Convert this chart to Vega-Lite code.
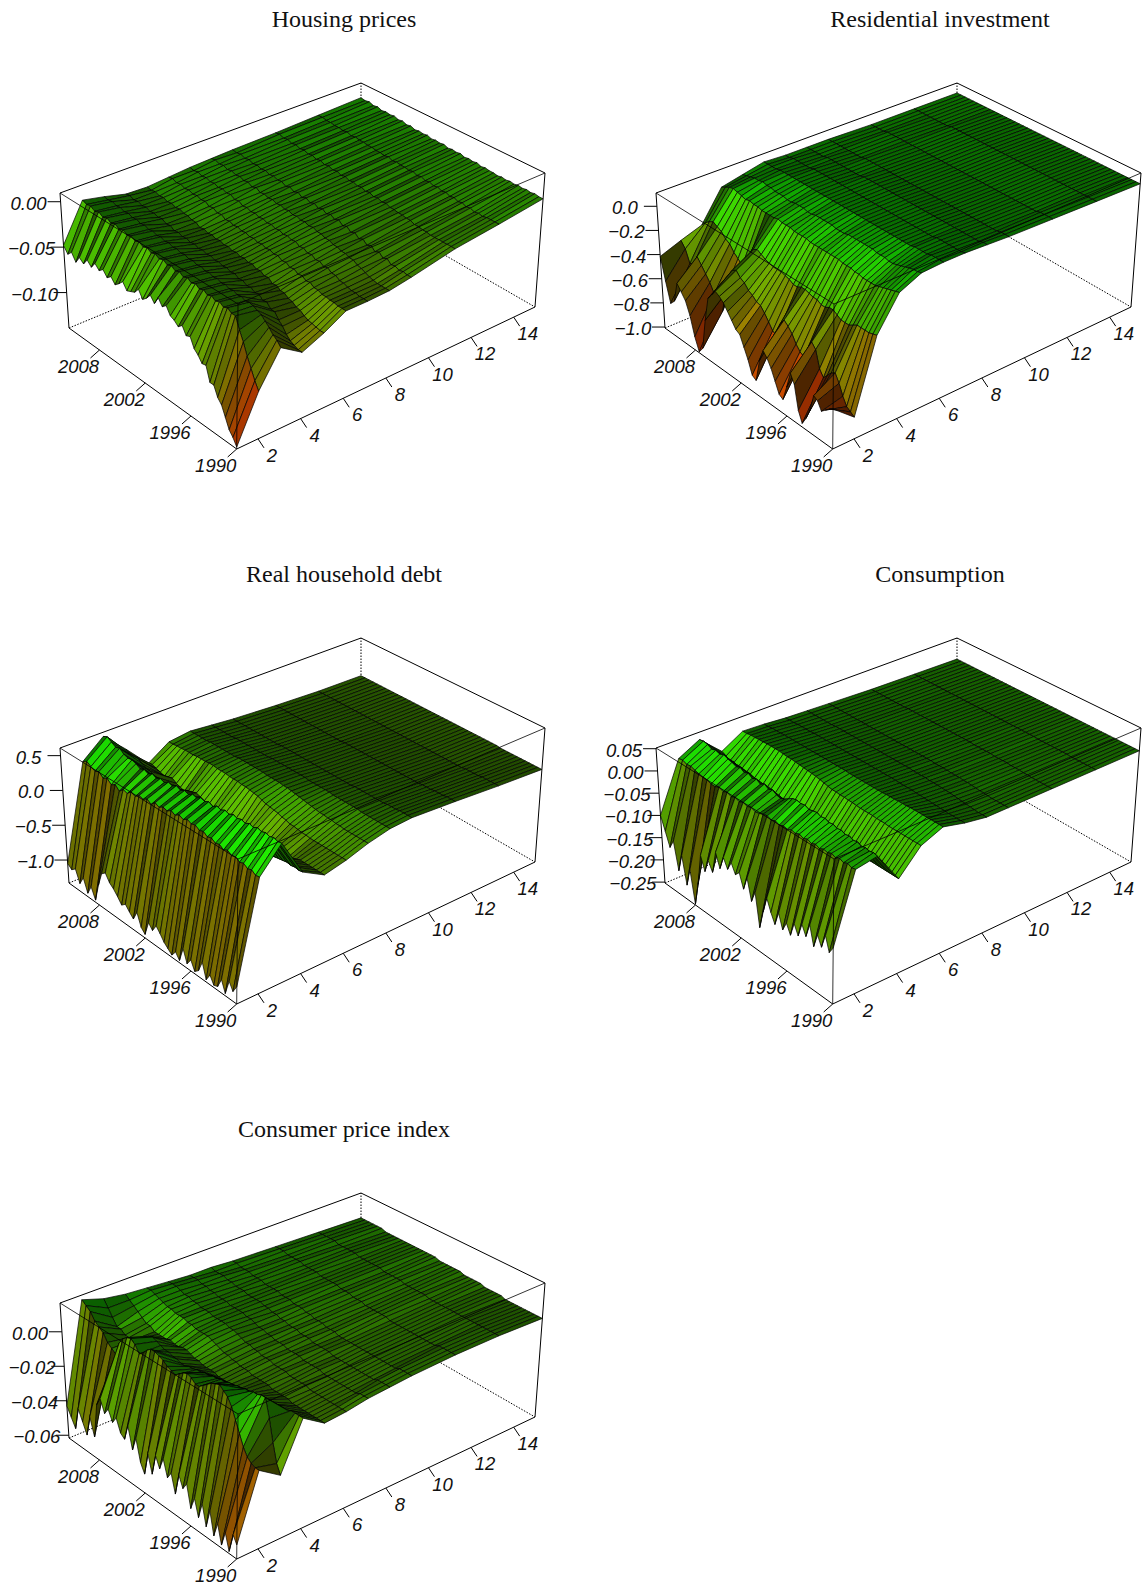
{"$schema":"https://vega.github.io/schema/vega-lite/v6.json","padding":0,"background":"white","config":{"view":{"stroke":null}},
"data":{"values":[
{"p":[0],"k":"t","t":"Housing prices","z":[0]},{"p":[1],"k":"t","t":"Residential investment","z":[0]},{"p":[2],"k":"t","t":"Real household debt","z":[0]},{"p":[3],"k":"t","t":"Consumption","z":[0]},{"p":[4],"k":"t","t":"Consumer price index","z":[0]},
{"p":[0,1,2,3,4],"k":"e1","o":0,"y":2012,"h":1,"w":0,"z":[0]},{"p":[0,1,2,3,4],"k":"e1","o":1,"y":2012,"h":1,"w":1,"z":[0]},{"p":[0,1,2,3,4],"k":"e1","o":2,"y":2012,"h":15,"w":1,"z":[0]},{"p":[0,1,2,3,4],"k":"e1","o":3,"y":1990,"h":15,"w":1,"z":[0]},{"p":[0,1,2,3,4],"k":"e1","o":4,"y":1990,"h":15,"w":0,"z":[0]},{"p":[0,1,2,3,4],"k":"e1","o":5,"y":1990,"h":1,"w":0,"z":[0]},{"p":[0,1,2,3,4],"k":"e1","o":6,"y":2012,"h":1,"w":0,"z":[0]},
{"p":[0,1,2,3,4],"k":"f1","o":0,"y":2012,"h":1,"w":1,"z":[0]},{"p":[0,1,2,3,4],"k":"f1","o":1,"y":1990,"h":1,"w":1,"z":[0]},{"p":[0,1,2,3,4],"k":"f1","o":2,"y":1990,"h":15,"w":1,"z":[0]},
{"p":[0,1,2,3,4],"k":"f2","o":0,"y":1990,"h":1,"w":0,"z":[0]},{"p":[0,1,2,3,4],"k":"f2","o":1,"y":1990,"h":1,"w":1,"z":[0]},
{"p":[0,1,2,3,4],"k":"d1","o":0,"y":2012,"h":1,"w":0,"z":[0]},{"p":[0,1,2,3,4],"k":"d1","o":1,"y":2012,"h":15,"w":0,"z":[0]},{"p":[0,1,2,3,4],"k":"d1","o":2,"y":1990,"h":15,"w":0,"z":[0]},
{"p":[0,1,2,3,4],"k":"d2","o":0,"y":2012,"h":15,"w":0,"z":[0]},{"p":[0,1,2,3,4],"k":"d2","o":1,"y":2012,"h":15,"w":1,"z":[0]},
{"p":[0,1,2,3,4],"k":"y","y":1990,"h":1,"w":0,"t":"1990","z":[0]},{"p":[0,1,2,3,4],"k":"y","y":1996,"h":1,"w":0,"t":"1996","z":[0]},{"p":[0,1,2,3,4],"k":"y","y":2002,"h":1,"w":0,"t":"2002","z":[0]},{"p":[0,1,2,3,4],"k":"y","y":2008,"h":1,"w":0,"t":"2008","z":[0]},
{"p":[0,1,2,3,4],"k":"h","y":1990,"h":2,"w":0,"t":"2","z":[0]},{"p":[0,1,2,3,4],"k":"h","y":1990,"h":4,"w":0,"t":"4","z":[0]},{"p":[0,1,2,3,4],"k":"h","y":1990,"h":6,"w":0,"t":"6","z":[0]},{"p":[0,1,2,3,4],"k":"h","y":1990,"h":8,"w":0,"t":"8","z":[0]},{"p":[0,1,2,3,4],"k":"h","y":1990,"h":10,"w":0,"t":"10","z":[0]},{"p":[0,1,2,3,4],"k":"h","y":1990,"h":12,"w":0,"t":"12","z":[0]},{"p":[0,1,2,3,4],"k":"h","y":1990,"h":14,"w":0,"t":"14","z":[0]},
{"p":[0],"k":"c","y":2012,"h":1,"z":[0],"t":"0.00"},{"p":[0],"k":"c","y":2012,"h":1,"z":[-0.05],"t":"−0.05"},{"p":[0],"k":"c","y":2012,"h":1,"z":[-0.1],"t":"−0.10"},
{"p":[1],"k":"c","y":2012,"h":1,"z":[0],"t":"0.0"},{"p":[1],"k":"c","y":2012,"h":1,"z":[-0.2],"t":"−0.2"},{"p":[1],"k":"c","y":2012,"h":1,"z":[-0.4],"t":"−0.4"},{"p":[1],"k":"c","y":2012,"h":1,"z":[-0.6],"t":"−0.6"},{"p":[1],"k":"c","y":2012,"h":1,"z":[-0.8],"t":"−0.8"},{"p":[1],"k":"c","y":2012,"h":1,"z":[-1],"t":"−1.0"},
{"p":[2],"k":"c","y":2012,"h":1,"z":[0.5],"t":"0.5"},{"p":[2],"k":"c","y":2012,"h":1,"z":[0],"t":"0.0"},{"p":[2],"k":"c","y":2012,"h":1,"z":[-0.5],"t":"−0.5"},{"p":[2],"k":"c","y":2012,"h":1,"z":[-1],"t":"−1.0"},
{"p":[3],"k":"c","y":2012,"h":1,"z":[0.05],"t":"0.05"},{"p":[3],"k":"c","y":2012,"h":1,"z":[0],"t":"0.00"},{"p":[3],"k":"c","y":2012,"h":1,"z":[-0.05],"t":"−0.05"},{"p":[3],"k":"c","y":2012,"h":1,"z":[-0.1],"t":"−0.10"},{"p":[3],"k":"c","y":2012,"h":1,"z":[-0.15],"t":"−0.15"},{"p":[3],"k":"c","y":2012,"h":1,"z":[-0.2],"t":"−0.20"},{"p":[3],"k":"c","y":2012,"h":1,"z":[-0.25],"t":"−0.25"},
{"p":[4],"k":"c","y":2012,"h":1,"z":[0],"t":"0.00"},{"p":[4],"k":"c","y":2012,"h":1,"z":[-0.02],"t":"−0.02"},{"p":[4],"k":"c","y":2012,"h":1,"z":[-0.04],"t":"−0.04"},{"p":[4],"k":"c","y":2012,"h":1,"z":[-0.06],"t":"−0.06"},
{"p":[0],"k":"s","y":2012,"z":[-0.008,-0.01,-0.012,-0.013,-0.014,-0.015,-0.017,-0.019,-0.018,-0.012,-0.007,-0.048]},
{"p":[0],"k":"s","y":2011.5,"z":[-0.009,-0.01,-0.011,-0.014,-0.013,-0.016,-0.016,-0.02,-0.017,-0.013,-0.009,-0.055]},
{"p":[0],"k":"s","y":2011,"z":[-0.008,-0.011,-0.013,-0.013,-0.015,-0.015,-0.018,-0.019,-0.019,-0.012,-0.008,-0.05]},
{"p":[0],"k":"s","y":2010.5,"z":[-0.01,-0.011,-0.012,-0.015,-0.014,-0.017,-0.017,-0.021,-0.018,-0.014,-0.011,-0.058]},
{"p":[0],"k":"s","y":2010,"z":[-0.009,-0.012,-0.014,-0.014,-0.016,-0.016,-0.019,-0.02,-0.02,-0.013,-0.009,-0.05]},
{"p":[0],"k":"s","y":2009.5,"z":[-0.011,-0.012,-0.013,-0.016,-0.015,-0.018,-0.018,-0.022,-0.019,-0.015,-0.012,-0.054]},
{"p":[0],"k":"s","y":2009,"z":[-0.01,-0.013,-0.015,-0.015,-0.017,-0.017,-0.02,-0.021,-0.021,-0.014,-0.01,-0.047]},
{"p":[0],"k":"s","y":2008.5,"z":[-0.011,-0.012,-0.014,-0.017,-0.016,-0.019,-0.019,-0.023,-0.02,-0.016,-0.013,-0.052]},
{"p":[0],"k":"s","y":2008,"z":[-0.01,-0.014,-0.016,-0.016,-0.018,-0.018,-0.021,-0.022,-0.022,-0.015,-0.011,-0.045]},
{"p":[0],"k":"s","y":2007.5,"z":[-0.012,-0.013,-0.015,-0.018,-0.017,-0.02,-0.02,-0.024,-0.021,-0.017,-0.014,-0.05]},
{"p":[0],"k":"s","y":2007,"z":[-0.011,-0.014,-0.017,-0.017,-0.02,-0.019,-0.023,-0.024,-0.024,-0.016,-0.012,-0.046]},
{"p":[0],"k":"s","y":2006.5,"z":[-0.013,-0.014,-0.016,-0.019,-0.018,-0.022,-0.022,-0.026,-0.023,-0.018,-0.015,-0.052]},
{"p":[0],"k":"s","y":2006,"z":[-0.012,-0.015,-0.018,-0.018,-0.021,-0.021,-0.025,-0.026,-0.026,-0.017,-0.013,-0.048]},
{"p":[0],"k":"s","y":2005.5,"z":[-0.014,-0.015,-0.017,-0.021,-0.02,-0.024,-0.024,-0.029,-0.025,-0.019,-0.016,-0.054]},
{"p":[0],"k":"s","y":2005,"z":[-0.013,-0.016,-0.019,-0.019,-0.022,-0.023,-0.027,-0.028,-0.027,-0.018,-0.014,-0.05]},
{"p":[0],"k":"s","y":2004.5,"z":[-0.014,-0.016,-0.018,-0.022,-0.021,-0.025,-0.026,-0.03,-0.026,-0.02,-0.017,-0.045]},
{"p":[0],"k":"s","y":2004,"z":[-0.013,-0.017,-0.02,-0.02,-0.023,-0.024,-0.028,-0.029,-0.028,-0.019,-0.015,-0.052]},
{"p":[0],"k":"s","y":2003.5,"z":[-0.015,-0.016,-0.019,-0.023,-0.022,-0.026,-0.027,-0.031,-0.027,-0.021,-0.018,-0.05]},
{"p":[0],"k":"s","y":2003,"z":[-0.014,-0.018,-0.021,-0.021,-0.024,-0.025,-0.029,-0.03,-0.029,-0.02,-0.016,-0.048]},
{"p":[0],"k":"s","y":2002.5,"z":[-0.015,-0.017,-0.02,-0.024,-0.023,-0.027,-0.028,-0.032,-0.028,-0.022,-0.019,-0.042]},
{"p":[0],"k":"s","y":2002,"z":[-0.014,-0.018,-0.022,-0.022,-0.025,-0.026,-0.03,-0.031,-0.03,-0.021,-0.017,-0.05]},
{"p":[0],"k":"s","y":2001.5,"z":[-0.016,-0.018,-0.021,-0.025,-0.024,-0.028,-0.029,-0.033,-0.029,-0.023,-0.02,-0.046]},
{"p":[0],"k":"s","y":2001,"z":[-0.015,-0.019,-0.023,-0.023,-0.026,-0.027,-0.031,-0.032,-0.031,-0.022,-0.018,-0.04]},
{"p":[0],"k":"s","y":2000.5,"z":[-0.016,-0.018,-0.022,-0.026,-0.025,-0.029,-0.03,-0.034,-0.03,-0.024,-0.021,-0.046]},
{"p":[0],"k":"s","y":2000,"z":[-0.015,-0.02,-0.024,-0.024,-0.027,-0.028,-0.032,-0.033,-0.032,-0.023,-0.019,-0.037]},
{"p":[0],"k":"s","y":1999.5,"z":[-0.017,-0.019,-0.023,-0.027,-0.026,-0.03,-0.031,-0.035,-0.031,-0.025,-0.022,-0.044]},
{"p":[0],"k":"s","y":1999,"z":[-0.016,-0.021,-0.025,-0.025,-0.028,-0.029,-0.033,-0.034,-0.033,-0.024,-0.02,-0.04]},
{"p":[0],"k":"s","y":1998.5,"z":[-0.017,-0.02,-0.024,-0.029,-0.028,-0.032,-0.032,-0.037,-0.032,-0.026,-0.023,-0.048]},
{"p":[0],"k":"s","y":1998,"z":[-0.016,-0.022,-0.026,-0.027,-0.03,-0.031,-0.035,-0.036,-0.035,-0.025,-0.021,-0.05]},
{"p":[0],"k":"s","y":1997.5,"z":[-0.018,-0.021,-0.026,-0.031,-0.03,-0.034,-0.034,-0.039,-0.034,-0.027,-0.024,-0.054]},
{"p":[0],"k":"s","y":1997,"z":[-0.017,-0.023,-0.027,-0.029,-0.032,-0.033,-0.037,-0.038,-0.037,-0.026,-0.022,-0.05]},
{"p":[0],"k":"s","y":1996.5,"z":[-0.018,-0.022,-0.027,-0.033,-0.032,-0.036,-0.036,-0.042,-0.036,-0.028,-0.025,-0.058]},
{"p":[0],"k":"s","y":1996,"z":[-0.018,-0.024,-0.028,-0.031,-0.034,-0.035,-0.039,-0.041,-0.039,-0.027,-0.023,-0.056]},
{"p":[0],"k":"s","y":1995.5,"z":[-0.019,-0.023,-0.028,-0.035,-0.034,-0.038,-0.038,-0.044,-0.038,-0.029,-0.026,-0.066]},
{"p":[0],"k":"s","y":1995,"z":[-0.018,-0.025,-0.03,-0.033,-0.036,-0.037,-0.041,-0.044,-0.042,-0.028,-0.024,-0.07]},
{"p":[0],"k":"s","y":1994.5,"z":[-0.019,-0.024,-0.03,-0.037,-0.036,-0.04,-0.04,-0.047,-0.041,-0.03,-0.027,-0.076]},
{"p":[0],"k":"s","y":1994,"z":[-0.018,-0.026,-0.031,-0.035,-0.039,-0.04,-0.043,-0.048,-0.046,-0.029,-0.025,-0.075]},
{"p":[0],"k":"s","y":1993.5,"z":[-0.019,-0.025,-0.031,-0.039,-0.04,-0.043,-0.043,-0.051,-0.046,-0.03,-0.028,-0.09]},
{"p":[0],"k":"s","y":1993,"z":[-0.018,-0.027,-0.032,-0.037,-0.042,-0.043,-0.045,-0.052,-0.052,-0.032,-0.028,-0.09]},
{"p":[0],"k":"s","y":1992.5,"z":[-0.019,-0.026,-0.032,-0.041,-0.044,-0.045,-0.045,-0.055,-0.056,-0.034,-0.04,-0.1]},
{"p":[0],"k":"s","y":1992,"z":[-0.018,-0.027,-0.032,-0.04,-0.045,-0.046,-0.046,-0.057,-0.062,-0.038,-0.05,-0.105]},
{"p":[0],"k":"s","y":1991.5,"z":[-0.019,-0.026,-0.032,-0.042,-0.046,-0.046,-0.046,-0.058,-0.066,-0.042,-0.062,-0.115]},
{"p":[0],"k":"s","y":1991,"z":[-0.018,-0.026,-0.032,-0.041,-0.046,-0.047,-0.047,-0.059,-0.068,-0.047,-0.072,-0.125]},
{"p":[0],"k":"s","y":1990.5,"z":[-0.019,-0.026,-0.032,-0.042,-0.046,-0.047,-0.047,-0.06,-0.07,-0.05,-0.082,-0.13]},
{"p":[0],"k":"s","y":1990,"z":[-0.019,-0.026,-0.032,-0.042,-0.046,-0.047,-0.047,-0.06,-0.07,-0.055,-0.09,-0.137]},
{"p":[1],"k":"s","y":2012,"z":[0.02,0.02,0.02,0.03,0.03,0.03,0.04,0,-0.04,-0.29,-0.35,-0.415]},
{"p":[1],"k":"s","y":2011.5,"z":[0.02,0.02,0.02,0.03,0.03,0.03,0.04,0.01,-0.02,-0.25,-0.4,-0.6]},
{"p":[1],"k":"s","y":2011,"z":[0.02,0.02,0.02,0.03,0.03,0.04,0.04,0.02,0,-0.22,-0.5,-0.76]},
{"p":[1],"k":"s","y":2010.5,"z":[0.02,0.02,0.02,0.03,0.03,0.04,0.04,0.03,0.01,-0.2,-0.48,-0.72]},
{"p":[1],"k":"s","y":2010,"z":[0.02,0.02,0.03,0.03,0.03,0.04,0.05,0.03,0,-0.22,-0.4,-0.55]},
{"p":[1],"k":"s","y":2009.5,"z":[0.02,0.02,0.03,0.03,0.04,0.04,0.05,0.04,-0.01,-0.24,-0.45,-0.6]},
{"p":[1],"k":"s","y":2009,"z":[0.02,0.02,0.03,0.03,0.04,0.04,0.05,0.03,-0.02,-0.28,-0.5,-0.65]},
{"p":[1],"k":"s","y":2008.5,"z":[0.02,0.02,0.03,0.03,0.04,0.05,0.05,0.03,-0.01,-0.3,-0.55,-0.75]},
{"p":[1],"k":"s","y":2008,"z":[0.02,0.02,0.03,0.03,0.04,0.05,0.05,0.02,-0.02,-0.35,-0.62,-0.9]},
{"p":[1],"k":"s","y":2007.5,"z":[0.02,0.03,0.03,0.04,0.04,0.05,0.05,0.02,-0.02,-0.38,-0.7,-1]},
{"p":[1],"k":"s","y":2007,"z":[0.02,0.03,0.03,0.04,0.04,0.05,0.05,0.02,-0.03,-0.42,-0.72,-0.95]},
{"p":[1],"k":"s","y":2006.5,"z":[0.02,0.03,0.03,0.04,0.04,0.05,0.05,0.01,-0.03,-0.4,-0.55,-0.7]},
{"p":[1],"k":"s","y":2006,"z":[0.02,0.03,0.03,0.04,0.04,0.05,0.05,0.01,-0.03,-0.28,-0.38,-0.5]},
{"p":[1],"k":"s","y":2005.5,"z":[0.02,0.03,0.03,0.04,0.04,0.05,0.05,0.02,-0.03,-0.22,-0.32,-0.45]},
{"p":[1],"k":"s","y":2005,"z":[0.02,0.03,0.03,0.04,0.05,0.05,0.05,0.02,-0.02,-0.2,-0.3,-0.4]},
{"p":[1],"k":"s","y":2004.5,"z":[0.02,0.03,0.03,0.04,0.05,0.05,0.05,0.02,-0.03,-0.22,-0.34,-0.42]},
{"p":[1],"k":"s","y":2004,"z":[0.02,0.03,0.03,0.04,0.05,0.05,0.05,0.01,-0.03,-0.24,-0.36,-0.45]},
{"p":[1],"k":"s","y":2003.5,"z":[0.02,0.03,0.03,0.04,0.05,0.05,0.05,0.01,-0.03,-0.25,-0.4,-0.5]},
{"p":[1],"k":"s","y":2003,"z":[0.02,0.03,0.03,0.04,0.05,0.05,0.05,0.02,-0.04,-0.26,-0.42,-0.55]},
{"p":[1],"k":"s","y":2002.5,"z":[0.02,0.03,0.03,0.04,0.05,0.05,0.05,0.02,-0.04,-0.26,-0.45,-0.6]},
{"p":[1],"k":"s","y":2002,"z":[0.02,0.03,0.03,0.04,0.05,0.05,0.05,0.02,-0.04,-0.26,-0.46,-0.62]},
{"p":[1],"k":"s","y":2001.5,"z":[0.02,0.03,0.03,0.04,0.05,0.05,0.05,0.02,-0.04,-0.27,-0.5,-0.7]},
{"p":[1],"k":"s","y":2001,"z":[0.02,0.03,0.03,0.04,0.05,0.05,0.05,0.02,-0.05,-0.28,-0.55,-0.78]},
{"p":[1],"k":"s","y":2000.5,"z":[0.02,0.03,0.03,0.04,0.05,0.05,0.05,0.01,-0.05,-0.3,-0.6,-0.88]},
{"p":[1],"k":"s","y":2000,"z":[0.02,0.03,0.03,0.04,0.05,0.05,0.05,0.01,-0.05,-0.3,-0.62,-0.9]},
{"p":[1],"k":"s","y":1999.5,"z":[0.02,0.03,0.03,0.04,0.05,0.05,0.05,0.01,-0.05,-0.28,-0.5,-0.72]},
{"p":[1],"k":"s","y":1999,"z":[0.02,0.03,0.03,0.04,0.05,0.05,0.05,0.02,-0.05,-0.28,-0.45,-0.62]},
{"p":[1],"k":"s","y":1998.5,"z":[0.02,0.03,0.03,0.04,0.05,0.05,0.05,0.02,-0.05,-0.29,-0.48,-0.66]},
{"p":[1],"k":"s","y":1998,"z":[0.02,0.03,0.03,0.04,0.05,0.05,0.05,0.02,-0.05,-0.3,-0.52,-0.72]},
{"p":[1],"k":"s","y":1997.5,"z":[0.02,0.03,0.03,0.04,0.05,0.05,0.05,0.02,-0.05,-0.3,-0.58,-0.8]},
{"p":[1],"k":"s","y":1997,"z":[0.02,0.03,0.03,0.04,0.05,0.05,0.05,0.02,-0.06,-0.32,-0.62,-0.88]},
{"p":[1],"k":"s","y":1996.5,"z":[0.02,0.03,0.03,0.04,0.05,0.05,0.05,0.02,-0.06,-0.32,-0.64,-0.9]},
{"p":[1],"k":"s","y":1996,"z":[0.02,0.03,0.03,0.04,0.05,0.05,0.05,0.02,-0.06,-0.3,-0.55,-0.78]},
{"p":[1],"k":"s","y":1995.5,"z":[0.02,0.03,0.03,0.04,0.05,0.05,0.05,0.01,-0.07,-0.3,-0.48,-0.65]},
{"p":[1],"k":"s","y":1995,"z":[0.02,0.03,0.03,0.04,0.05,0.05,0.05,0.01,-0.07,-0.32,-0.52,-0.72]},
{"p":[1],"k":"s","y":1994.5,"z":[0.02,0.03,0.03,0.04,0.05,0.05,0.05,0.01,-0.08,-0.34,-0.65,-0.9]},
{"p":[1],"k":"s","y":1994,"z":[0.02,0.03,0.03,0.04,0.05,0.05,0.05,0,-0.08,-0.34,-0.7,-0.98]},
{"p":[1],"k":"s","y":1993.5,"z":[0.02,0.03,0.03,0.04,0.05,0.06,0.06,0,-0.08,-0.34,-0.66,-0.92]},
{"p":[1],"k":"s","y":1993,"z":[0.02,0.03,0.03,0.04,0.05,0.06,0.06,0.01,-0.08,-0.32,-0.62,-0.84]},
{"p":[1],"k":"s","y":1992.5,"z":[0.02,0.03,0.03,0.04,0.05,0.06,0.06,0.02,-0.07,-0.3,-0.6,-0.7]},
{"p":[1],"k":"s","y":1992,"z":[0.02,0.03,0.03,0.04,0.05,0.06,0.06,0.03,-0.06,-0.3,-0.66,-0.72]},
{"p":[1],"k":"s","y":1991.5,"z":[0.02,0.03,0.04,0.04,0.05,0.06,0.07,0.04,-0.05,-0.3,-0.74,-0.78]},
{"p":[1],"k":"s","y":1991,"z":[0.02,0.03,0.04,0.05,0.05,0.06,0.07,0.05,-0.04,-0.3,-0.8,-0.75]},
{"p":[1],"k":"s","y":1990.5,"z":[0.02,0.03,0.04,0.05,0.06,0.06,0.07,0.05,-0.03,-0.29,-0.82,-0.72]},
{"p":[1],"k":"s","y":1990,"z":[0.02,0.03,0.04,0.05,0.06,0.07,0.07,0.06,-0.02,-0.28,-0.84,-0.7]},
{"p":[2],"k":"s","y":2012,"z":[0.02,0.03,0.06,0.1,0.13,0.16,0.12,-0.08,0.25,0.55,0.3,-1.05]},
{"p":[2],"k":"s","y":2011.5,"z":[0.02,0.03,0.06,0.1,0.13,0.16,0.12,-0.06,0.22,0.58,0.34,-1.1]},
{"p":[2],"k":"s","y":2011,"z":[0.02,0.03,0.06,0.1,0.13,0.16,0.13,-0.08,0.2,0.54,0.3,-1.05]},
{"p":[2],"k":"s","y":2010.5,"z":[0.02,0.03,0.06,0.1,0.13,0.16,0.13,-0.1,0.22,0.5,0.27,-1.22]},
{"p":[2],"k":"s","y":2010,"z":[0.02,0.03,0.06,0.1,0.13,0.16,0.14,-0.12,0.18,0.52,0.3,-1.1]},
{"p":[2],"k":"s","y":2009.5,"z":[0.02,0.03,0.06,0.1,0.13,0.17,0.14,-0.1,0.15,0.47,0.24,-1.28]},
{"p":[2],"k":"s","y":2009,"z":[0.02,0.03,0.06,0.1,0.14,0.17,0.14,-0.08,0.14,0.45,0.28,-1.15]},
{"p":[2],"k":"s","y":2008.5,"z":[0.02,0.03,0.06,0.1,0.14,0.17,0.15,-0.12,0.1,0.46,0.22,-1.3]},
{"p":[2],"k":"s","y":2008,"z":[0.02,0.03,0.06,0.1,0.14,0.17,0.15,-0.14,0.08,0.44,0.26,-1.05]},
{"p":[2],"k":"s","y":2007.5,"z":[0.02,0.03,0.06,0.1,0.14,0.17,0.15,-0.16,0.05,0.4,0.2,-0.85]},
{"p":[2],"k":"s","y":2007,"z":[0.02,0.03,0.06,0.1,0.14,0.17,0.16,-0.12,0.06,0.43,0.26,-0.8]},
{"p":[2],"k":"s","y":2006.5,"z":[0.02,0.03,0.06,0.1,0.14,0.17,0.16,-0.1,0.08,0.4,0.24,-0.9]},
{"p":[2],"k":"s","y":2006,"z":[0.02,0.03,0.06,0.11,0.14,0.18,0.15,-0.08,0.05,0.44,0.3,-0.95]},
{"p":[2],"k":"s","y":2005.5,"z":[0.02,0.03,0.06,0.11,0.14,0.18,0.15,-0.1,0.04,0.41,0.27,-1.02]},
{"p":[2],"k":"s","y":2005,"z":[0.02,0.03,0.06,0.11,0.14,0.18,0.15,-0.12,0,0.44,0.32,-1.1]},
{"p":[2],"k":"s","y":2004.5,"z":[0.02,0.03,0.06,0.11,0.15,0.18,0.14,-0.14,-0.02,0.42,0.3,-1.05]},
{"p":[2],"k":"s","y":2004,"z":[0.02,0.03,0.06,0.11,0.15,0.18,0.14,-0.16,-0.02,0.46,0.34,-1.12]},
{"p":[2],"k":"s","y":2003.5,"z":[0.02,0.03,0.07,0.11,0.15,0.18,0.14,-0.14,0.02,0.44,0.3,-1.18]},
{"p":[2],"k":"s","y":2003,"z":[0.02,0.03,0.07,0.11,0.15,0.18,0.13,-0.12,0,0.48,0.36,-1.05]},
{"p":[2],"k":"s","y":2002.5,"z":[0.02,0.03,0.07,0.11,0.15,0.17,0.13,-0.14,-0.02,0.45,0.33,-1.22]},
{"p":[2],"k":"s","y":2002,"z":[0.02,0.03,0.07,0.11,0.15,0.17,0.12,-0.16,-0.05,0.48,0.37,-1.28]},
{"p":[2],"k":"s","y":2001.5,"z":[0.02,0.03,0.07,0.11,0.15,0.17,0.11,-0.2,-0.04,0.46,0.35,-1.08]},
{"p":[2],"k":"s","y":2001,"z":[0.02,0.03,0.07,0.11,0.15,0.17,0.1,-0.24,-0.08,0.5,0.39,-1.15]},
{"p":[2],"k":"s","y":2000.5,"z":[0.02,0.03,0.07,0.11,0.15,0.16,0.08,-0.22,-0.06,0.48,0.36,-1.05]},
{"p":[2],"k":"s","y":2000,"z":[0.02,0.03,0.07,0.11,0.14,0.16,0.06,-0.2,-0.02,0.52,0.4,-1.12]},
{"p":[2],"k":"s","y":1999.5,"z":[0.02,0.03,0.07,0.11,0.14,0.15,0.05,-0.18,0,0.5,0.37,-1.2]},
{"p":[2],"k":"s","y":1999,"z":[0.02,0.03,0.07,0.11,0.14,0.14,0.04,-0.16,0.02,0.53,0.41,-1.25]},
{"p":[2],"k":"s","y":1998.5,"z":[0.02,0.03,0.07,0.11,0.14,0.13,0.03,-0.18,0,0.5,0.38,-1.3]},
{"p":[2],"k":"s","y":1998,"z":[0.02,0.03,0.07,0.11,0.14,0.12,0.01,-0.2,-0.03,0.54,0.4,-1.22]},
{"p":[2],"k":"s","y":1997.5,"z":[0.02,0.03,0.07,0.11,0.14,0.11,0,-0.22,-0.05,0.52,0.36,-1.3]},
{"p":[2],"k":"s","y":1997,"z":[0.02,0.03,0.07,0.12,0.13,0.1,-0.02,-0.2,-0.02,0.55,0.38,-1.1]},
{"p":[2],"k":"s","y":1996.5,"z":[0.02,0.03,0.07,0.12,0.13,0.09,-0.02,-0.18,0,0.53,0.34,-1.27]},
{"p":[2],"k":"s","y":1996,"z":[0.02,0.03,0.07,0.12,0.13,0.08,-0.03,-0.16,0.03,0.56,0.36,-1.18]},
{"p":[2],"k":"s","y":1995.5,"z":[0.02,0.03,0.07,0.12,0.13,0.08,-0.04,-0.14,0.02,0.54,0.32,-1.3]},
{"p":[2],"k":"s","y":1995,"z":[0.01,0.03,0.07,0.12,0.13,0.07,-0.04,-0.16,0,0.56,0.34,-1.25]},
{"p":[2],"k":"s","y":1994.5,"z":[0.01,0.03,0.07,0.12,0.13,0.07,-0.05,-0.18,-0.02,0.54,0.3,-1.1]},
{"p":[2],"k":"s","y":1994,"z":[0.01,0.04,0.08,0.12,0.13,0.06,-0.05,-0.16,0,0.57,0.33,-1.3]},
{"p":[2],"k":"s","y":1993.5,"z":[0.01,0.04,0.08,0.12,0.12,0.06,-0.05,-0.14,0.02,0.55,0.29,-1.2]},
{"p":[2],"k":"s","y":1993,"z":[0.01,0.04,0.08,0.13,0.12,0.05,-0.05,-0.12,0.03,0.58,0.31,-1.3]},
{"p":[2],"k":"s","y":1992.5,"z":[0.01,0.04,0.09,0.13,0.12,0.05,-0.05,-0.12,0.04,0.56,0.27,-1.28]},
{"p":[2],"k":"s","y":1992,"z":[0.01,0.05,0.09,0.13,0.12,0.05,-0.05,-0.12,0.05,0.58,0.29,-1.15]},
{"p":[2],"k":"s","y":1991.5,"z":[0.01,0.05,0.09,0.14,0.12,0.05,-0.05,-0.12,0.04,0.56,0.25,-1.3]},
{"p":[2],"k":"s","y":1991,"z":[0.01,0.05,0.1,0.14,0.12,0.05,-0.05,-0.12,0.05,0.58,0.27,-1.1]},
{"p":[2],"k":"s","y":1990.5,"z":[0.01,0.05,0.1,0.14,0.12,0.05,-0.05,-0.12,0.04,0.56,0.23,-1.2]},
{"p":[2],"k":"s","y":1990,"z":[0.01,0.05,0.1,0.14,0.12,0.05,-0.05,-0.12,0.05,0.57,0.24,-1.1]},
{"p":[3],"k":"s","y":2012,"z":[0,0.002,0.004,0.008,0.01,0.012,0.016,0.018,-0.01,0.035,0.01,-0.1]},
{"p":[3],"k":"s","y":2011.5,"z":[0,0.002,0.004,0.008,0.01,0.012,0.016,0.018,-0.015,0.037,0.012,-0.13]},
{"p":[3],"k":"s","y":2011,"z":[0,0.002,0.004,0.008,0.01,0.012,0.017,0.02,-0.02,0.035,0.008,-0.16]},
{"p":[3],"k":"s","y":2010.5,"z":[0,0.002,0.004,0.008,0.01,0.013,0.017,0.02,-0.018,0.03,0.01,-0.14]},
{"p":[3],"k":"s","y":2010,"z":[0,0.002,0.004,0.008,0.01,0.013,0.017,0.021,-0.022,0.033,0.006,-0.2]},
{"p":[3],"k":"s","y":2009.5,"z":[0,0.002,0.004,0.008,0.01,0.013,0.018,0.021,-0.02,0.03,0.004,-0.16]},
{"p":[3],"k":"s","y":2009,"z":[0,0.002,0.004,0.008,0.01,0.013,0.018,0.022,-0.024,0.034,0.002,-0.22]},
{"p":[3],"k":"s","y":2008.5,"z":[0,0.002,0.004,0.008,0.011,0.014,0.018,0.022,-0.022,0.03,0.002,-0.18]},
{"p":[3],"k":"s","y":2008,"z":[0,0.002,0.004,0.008,0.011,0.014,0.018,0.022,-0.026,0.028,-0.002,-0.25]},
{"p":[3],"k":"s","y":2007.5,"z":[0,0.002,0.005,0.008,0.011,0.014,0.018,0.022,-0.028,0.024,-0.002,-0.2]},
{"p":[3],"k":"s","y":2007,"z":[0,0.002,0.005,0.008,0.011,0.014,0.018,0.021,-0.03,0.028,0.002,-0.13]},
{"p":[3],"k":"s","y":2006.5,"z":[0,0.002,0.005,0.008,0.011,0.014,0.018,0.02,-0.032,0.022,-0.002,-0.16]},
{"p":[3],"k":"s","y":2006,"z":[0,0.002,0.005,0.008,0.011,0.014,0.018,0.02,-0.03,0.026,0.002,-0.13]},
{"p":[3],"k":"s","y":2005.5,"z":[0,0.002,0.005,0.008,0.011,0.014,0.018,0.019,-0.034,0.02,-0.002,-0.15]},
{"p":[3],"k":"s","y":2005,"z":[0,0.002,0.005,0.008,0.011,0.014,0.018,0.018,-0.032,0.024,0.002,-0.1]},
{"p":[3],"k":"s","y":2004.5,"z":[0,0.002,0.005,0.008,0.011,0.014,0.018,0.017,-0.036,0.018,-0.002,-0.13]},
{"p":[3],"k":"s","y":2004,"z":[0,0.002,0.005,0.008,0.011,0.014,0.018,0.016,-0.034,0.024,0.002,-0.1]},
{"p":[3],"k":"s","y":2003.5,"z":[0,0.002,0.005,0.008,0.011,0.014,0.018,0.015,-0.04,0.018,-0.001,-0.12]},
{"p":[3],"k":"s","y":2003,"z":[0,0.002,0.005,0.008,0.011,0.014,0.018,0.014,-0.042,0.022,0.002,-0.1]},
{"p":[3],"k":"s","y":2002.5,"z":[0,0.002,0.005,0.008,0.011,0.014,0.018,0.012,-0.05,0.016,-0.002,-0.12]},
{"p":[3],"k":"s","y":2002,"z":[0,0.002,0.005,0.008,0.011,0.014,0.018,0.01,-0.055,0.014,0,-0.11]},
{"p":[3],"k":"s","y":2001.5,"z":[0,0.002,0.005,0.008,0.011,0.014,0.017,0.008,-0.052,0.018,0.004,-0.14]},
{"p":[3],"k":"s","y":2001,"z":[0,0.002,0.005,0.008,0.011,0.014,0.017,0.006,-0.048,0.024,0.006,-0.11]},
{"p":[3],"k":"s","y":2000.5,"z":[0,0.002,0.005,0.008,0.011,0.014,0.017,0.006,-0.05,0.03,0.002,-0.155]},
{"p":[3],"k":"s","y":2000,"z":[0,0.002,0.005,0.008,0.011,0.014,0.017,0.005,-0.05,0.032,0.006,-0.13]},
{"p":[3],"k":"s","y":1999.5,"z":[0,0.002,0.004,0.008,0.011,0.014,0.017,0.005,-0.048,0.03,0.002,-0.2]},
{"p":[3],"k":"s","y":1999,"z":[0,0.002,0.004,0.007,0.01,0.014,0.017,0.004,-0.05,0.032,0.006,-0.16]},
{"p":[3],"k":"s","y":1998.5,"z":[0,0.002,0.004,0.007,0.01,0.014,0.017,0.004,-0.052,0.028,0.004,-0.125]},
{"p":[3],"k":"s","y":1998,"z":[0,0.002,0.004,0.007,0.01,0.013,0.017,0.003,-0.05,0.03,0.008,-0.15]},
{"p":[3],"k":"s","y":1997.5,"z":[0,0.002,0.004,0.007,0.01,0.013,0.017,0.002,-0.048,0.032,0.006,-0.17]},
{"p":[3],"k":"s","y":1997,"z":[0,0.001,0.003,0.006,0.009,0.013,0.018,0.002,-0.05,0.028,0.01,-0.14]},
{"p":[3],"k":"s","y":1996.5,"z":[0,0.001,0.003,0.006,0.009,0.013,0.018,0.002,-0.05,0.03,0.006,-0.17]},
{"p":[3],"k":"s","y":1996,"z":[0,0.001,0.003,0.006,0.009,0.012,0.018,0.002,-0.052,0.026,0.01,-0.15]},
{"p":[3],"k":"s","y":1995.5,"z":[0,0.001,0.003,0.005,0.008,0.012,0.019,0.001,-0.05,0.028,0.006,-0.17]},
{"p":[3],"k":"s","y":1995,"z":[0,0.001,0.002,0.005,0.008,0.011,0.019,0.001,-0.05,0.024,0.01,-0.14]},
{"p":[3],"k":"s","y":1994.5,"z":[0,0.001,0.002,0.004,0.007,0.011,0.019,0.001,-0.05,0.026,0.006,-0.16]},
{"p":[3],"k":"s","y":1994,"z":[0,0.001,0.002,0.003,0.006,0.01,0.02,0,-0.05,0.022,0.01,-0.13]},
{"p":[3],"k":"s","y":1993.5,"z":[0,0.001,0.001,0.002,0.005,0.01,0.02,0,-0.05,0.024,0.008,-0.15]},
{"p":[3],"k":"s","y":1993,"z":[0,0,0.001,0.002,0.004,0.009,0.02,0,-0.05,0.02,0.012,-0.12]},
{"p":[3],"k":"s","y":1992.5,"z":[0,0,0,0.001,0.003,0.009,0.02,0,-0.05,0.022,0.008,-0.16]},
{"p":[3],"k":"s","y":1992,"z":[0,0,0,0,0.002,0.008,0.02,0,-0.05,0.018,0.012,-0.13]},
{"p":[3],"k":"s","y":1991.5,"z":[0,0,0,0,0.001,0.008,0.02,0,-0.05,0.02,0.008,-0.15]},
{"p":[3],"k":"s","y":1991,"z":[0,0,0,0,0,0.008,0.02,0,-0.05,0.018,0.012,-0.12]},
{"p":[3],"k":"s","y":1990.5,"z":[0,0,0,0,0,0.008,0.02,0,-0.05,0.02,0.008,-0.15]},
{"p":[3],"k":"s","y":1990,"z":[0,0,0,0,0,0.008,0.02,0,-0.05,0.018,0.01,-0.135]},
{"p":[4],"k":"s","y":2012,"z":[0.001,0.002,0.003,0.004,0.005,0.005,0.006,0.007,0.008,0.01,0.014,-0.043]},
{"p":[4],"k":"s","y":2011.5,"z":[0.001,0.002,0.003,0.004,0.004,0.005,0.006,0.007,0.006,0.006,0.012,-0.048]},
{"p":[4],"k":"s","y":2011,"z":[0.001,0.002,0.003,0.003,0.004,0.005,0.006,0.006,0.004,0.002,0.01,-0.053]},
{"p":[4],"k":"s","y":2010.5,"z":[0.001,0.002,0.002,0.003,0.004,0.004,0.005,0.005,0.002,-0.002,0.006,-0.04]},
{"p":[4],"k":"s","y":2010,"z":[0.001,0.002,0.002,0.003,0.003,0.004,0.004,0.004,0,-0.002,0.004,-0.046]},
{"p":[4],"k":"s","y":2009.5,"z":[0.001,0.001,0.002,0.002,0.003,0.003,0.004,0.003,-0.002,-0.004,0.002,-0.052]},
{"p":[4],"k":"s","y":2009,"z":[0,0.001,0.002,0.002,0.002,0.003,0.003,0.003,-0.002,-0.004,-0.002,-0.04]},
{"p":[4],"k":"s","y":2008.5,"z":[0,0.001,0.001,0.002,0.002,0.002,0.003,0.002,-0.004,-0.004,-0.004,-0.05]},
{"p":[4],"k":"s","y":2008,"z":[0,0.001,0.001,0.001,0.002,0.002,0.002,0.002,-0.004,-0.002,-0.006,-0.03]},
{"p":[4],"k":"s","y":2007.5,"z":[0,0.001,0.001,0.001,0.001,0.002,0.002,0.002,-0.004,0,0.002,-0.025]},
{"p":[4],"k":"s","y":2007,"z":[0,0,0.001,0.001,0.001,0.001,0.002,0.001,-0.004,0.002,0.006,-0.032]},
{"p":[4],"k":"s","y":2006.5,"z":[0,0,0,0.001,0.001,0.001,0.001,0.001,-0.003,0.004,0.008,-0.028]},
{"p":[4],"k":"s","y":2006,"z":[0,0,0,0,0.001,0.001,0.001,0,-0.004,0.005,0.009,-0.034]},
{"p":[4],"k":"s","y":2005.5,"z":[0,0,0,0,0,0.001,0.001,0,-0.004,0.004,0.007,-0.03]},
{"p":[4],"k":"s","y":2005,"z":[0,0,0,0,0,0,0.001,0,-0.003,0.003,0.003,-0.037]},
{"p":[4],"k":"s","y":2004.5,"z":[0,0,0,-0.001,-0.001,0,0,0,-0.003,0.002,0.005,-0.039]},
{"p":[4],"k":"s","y":2004,"z":[0,-0.001,-0.001,-0.001,-0.001,-0.001,0,-0.001,-0.004,0.002,0.008,-0.03]},
{"p":[4],"k":"s","y":2003.5,"z":[0,-0.001,-0.001,-0.001,-0.002,-0.002,-0.001,-0.002,-0.005,0.001,0.01,-0.042]},
{"p":[4],"k":"s","y":2003,"z":[0,-0.001,-0.001,-0.002,-0.002,-0.002,-0.002,-0.003,-0.005,0.001,0.01,-0.034]},
{"p":[4],"k":"s","y":2002.5,"z":[-0.001,-0.001,-0.002,-0.002,-0.003,-0.003,-0.003,-0.004,-0.006,0,0.009,-0.046]},
{"p":[4],"k":"s","y":2002,"z":[-0.001,-0.001,-0.002,-0.003,-0.003,-0.003,-0.003,-0.004,-0.006,0,0.008,-0.051]},
{"p":[4],"k":"s","y":2001.5,"z":[-0.001,-0.002,-0.002,-0.003,-0.003,-0.004,-0.004,-0.005,-0.006,0.001,0.006,-0.038]},
{"p":[4],"k":"s","y":2001,"z":[-0.001,-0.002,-0.003,-0.003,-0.004,-0.004,-0.004,-0.005,-0.006,0.001,0.005,-0.048]},
{"p":[4],"k":"s","y":2000.5,"z":[-0.001,-0.002,-0.003,-0.004,-0.004,-0.004,-0.005,-0.006,-0.007,0.002,0.004,-0.036]},
{"p":[4],"k":"s","y":2000,"z":[-0.001,-0.002,-0.003,-0.004,-0.004,-0.005,-0.005,-0.006,-0.007,0.002,0.006,-0.042]},
{"p":[4],"k":"s","y":1999.5,"z":[-0.002,-0.002,-0.003,-0.004,-0.005,-0.005,-0.005,-0.006,-0.007,0.003,0.008,-0.035]},
{"p":[4],"k":"s","y":1999,"z":[-0.002,-0.002,-0.003,-0.005,-0.005,-0.005,-0.006,-0.007,-0.007,0.003,0.009,-0.044]},
{"p":[4],"k":"s","y":1998.5,"z":[-0.002,-0.003,-0.003,-0.005,-0.005,-0.005,-0.006,-0.007,-0.007,0.004,0.008,-0.04]},
{"p":[4],"k":"s","y":1998,"z":[-0.002,-0.003,-0.004,-0.005,-0.005,-0.006,-0.006,-0.007,-0.007,0.004,0.006,-0.05]},
{"p":[4],"k":"s","y":1997.5,"z":[-0.002,-0.003,-0.004,-0.005,-0.005,-0.006,-0.006,-0.007,-0.006,0.005,0.006,-0.038]},
{"p":[4],"k":"s","y":1997,"z":[-0.003,-0.003,-0.004,-0.005,-0.006,-0.006,-0.007,-0.007,-0.006,0.005,0.008,-0.044]},
{"p":[4],"k":"s","y":1996.5,"z":[-0.003,-0.003,-0.004,-0.005,-0.006,-0.006,-0.007,-0.008,-0.005,0.006,0.01,-0.04]},
{"p":[4],"k":"s","y":1996,"z":[-0.003,-0.003,-0.004,-0.005,-0.006,-0.006,-0.007,-0.008,-0.005,0.006,0.012,-0.052]},
{"p":[4],"k":"s","y":1995.5,"z":[-0.003,-0.003,-0.004,-0.005,-0.006,-0.007,-0.007,-0.008,-0.004,0.007,0.013,-0.045]},
{"p":[4],"k":"s","y":1995,"z":[-0.003,-0.003,-0.004,-0.005,-0.006,-0.007,-0.007,-0.008,-0.004,0.007,0.014,-0.054]},
{"p":[4],"k":"s","y":1994.5,"z":[-0.004,-0.003,-0.004,-0.005,-0.006,-0.007,-0.008,-0.008,-0.003,0.008,0.012,-0.045]},
{"p":[4],"k":"s","y":1994,"z":[-0.004,-0.003,-0.004,-0.005,-0.006,-0.007,-0.008,-0.009,-0.003,0.008,0.01,-0.056]},
{"p":[4],"k":"s","y":1993.5,"z":[-0.004,-0.003,-0.004,-0.005,-0.006,-0.007,-0.008,-0.009,-0.003,0.009,0.006,-0.046]},
{"p":[4],"k":"s","y":1993,"z":[-0.004,-0.003,-0.004,-0.005,-0.006,-0.007,-0.008,-0.009,-0.002,0.009,0,-0.058]},
{"p":[4],"k":"s","y":1992.5,"z":[-0.004,-0.003,-0.004,-0.005,-0.006,-0.007,-0.008,-0.009,-0.002,0.01,-0.006,-0.05]},
{"p":[4],"k":"s","y":1992,"z":[-0.004,-0.003,-0.003,-0.005,-0.006,-0.007,-0.008,-0.009,-0.002,0.01,-0.012,-0.06]},
{"p":[4],"k":"s","y":1991.5,"z":[-0.004,-0.003,-0.003,-0.004,-0.005,-0.007,-0.008,-0.009,-0.001,0.0,-0.016,-0.052]},
{"p":[4],"k":"s","y":1991,"z":[-0.004,-0.003,-0.003,-0.004,-0.005,-0.006,-0.008,-0.009,-0.001,-0.012,-0.018,-0.0605]},
{"p":[4],"k":"s","y":1990.5,"z":[-0.004,-0.003,-0.003,-0.004,-0.005,-0.006,-0.008,-0.009,-0.001,-0.022,-0.019,-0.05]},
{"p":[4],"k":"s","y":1990,"z":[-0.004,-0.003,-0.003,-0.004,-0.005,-0.006,-0.008,-0.009,-0.001,-0.027,-0.019,-0.054]}
]},
"transform":[{"flatten":["p"]},{"flatten":["z"]},
{"window":[{"op":"row_number","as":"i"}],"groupby":["p","y","k"]},
{"calculate":"datum.h||[15,13,11,9,8,7,6,5,4,3,2,1][datum.i-1]","as":"h"},
{"calculate":"(datum.h-1)/14","as":"u"},{"calculate":"(datum.y-1990)/22","as":"v"},
{"calculate":"[-0.139,-1.008,-1.33,-0.252,-0.0616][datum.p]","as":"lo"},{"calculate":"[0.0096,0.11,0.61,0.0516,0.0167][datum.p]","as":"hi"},
{"calculate":"datum.w!=null?datum.w:(datum.z-datum.lo)/(datum.hi-datum.lo)","as":"w"},
{"calculate":"(1-datum.w)*((1-datum.u)*((1-datum.v)*236.7+datum.v*69)+datum.u*((1-datum.v)*535+datum.v*361))+datum.w*((1-datum.u)*((1-datum.v)*238+datum.v*60)+datum.u*((1-datum.v)*545+datum.v*361))","as":"X"},
{"calculate":"(1-datum.w)*((1-datum.u)*((1-datum.v)*448+datum.v*327)+datum.u*((1-datum.v)*306+datum.v*206))+datum.w*((1-datum.u)*((1-datum.v)*303+datum.v*192)+datum.u*((1-datum.v)*172+datum.v*82))","as":"Y"}],
"facet":{"field":"p","type":"ordinal","title":null,"header":{"title":null,"labelExpr":"''","labelFontSize":1,"labelPadding":0,"labelColor":"white"}},"columns":2,"spacing":{"row":74,"column":46},
"spec":{"width":550,"height":480,
"encoding":{"x":{"field":"X","type":"quantitative","scale":{"domain":[0,550]},"axis":null},"y":{"field":"Y","type":"quantitative","scale":{"domain":[480,0]},"axis":null}},
"layer":[
{"transform":[{"filter":"datum.k=='e1'"}],"mark":{"type":"line","stroke":"black","strokeWidth":1},"encoding":{"detail":{"field":"k"},"order":{"field":"o"}}},
{"transform":[{"filter":"datum.k=='d1'||datum.k=='d2'"}],"mark":{"type":"line","stroke":"black","strokeWidth":1,"strokeDash":[1.5,1.5]},"encoding":{"detail":{"field":"k"},"order":{"field":"o"}}},
{"transform":[{"filter":"datum.k=='s'"},
{"window":[{"op":"lead","field":"X","as":"Xh"},{"op":"lead","field":"Y","as":"Yh"},{"op":"lead","field":"w","as":"wh"},{"op":"lead","field":"h","as":"hn"}],"groupby":["p","y"],"sort":[{"field":"h"}]},
{"window":[{"op":"lead","field":"X","as":"Xy"},{"op":"lead","field":"Y","as":"Yy"},{"op":"lead","field":"w","as":"wy"},{"op":"lead","field":"Xh","as":"Xd"},{"op":"lead","field":"Yh","as":"Yd"},{"op":"lead","field":"wh","as":"wd"},{"op":"lead","field":"y","as":"yn"}],"groupby":["p","h"],"sort":[{"field":"y"}]},
{"filter":"isValid(datum.Xd)&&isValid(datum.Xh)&&isValid(datum.Xy)"},
{"calculate":"datum.p+'_'+datum.y+'_'+datum.h","as":"id"},
{"calculate":"0.55*((datum.wh+datum.wd-datum.w-datum.wy)/2)/((datum.hn-datum.h)/14)","as":"a"},
{"calculate":"1.1*((datum.wy+datum.wd-datum.w-datum.wh)/2)/((datum.yn-datum.y)/22)","as":"b"},
{"calculate":"(0.76*datum.a+0.3*datum.b+0.6)/sqrt(1+datum.a*datum.a+datum.b*datum.b)","as":"d"},
{"calculate":"max(0.4,pow((1+datum.d)/2,3.5))","as":"s"},
{"calculate":"clamp((datum.w+datum.wh+datum.wy+datum.wd)/4,0,1)","as":"m"},
{"calculate":"'rgb('+floor(255*pow(1-datum.m,0.9)*datum.s)+','+floor(255*pow(datum.m,0.8)*datum.s)+',0)'","as":"col"},
{"calculate":"[datum.X,datum.Xh,datum.Xd,datum.Xy,datum.X]","as":"cx"},{"calculate":"[datum.Y,datum.Yh,datum.Yd,datum.Yy,datum.Y]","as":"cy"},{"calculate":"[0,1,2,3,4]","as":"c"},
{"flatten":["cx","cy","c"],"as":["X","Y","c"]}],
"mark":{"type":"line","stroke":"black","strokeWidth":0.7,"strokeJoin":"round"},"encoding":{"detail":{"field":"id"},"order":{"field":"c"},"fill":{"field":"col","type":"nominal","scale":null,"legend":null}}},
{"transform":[{"filter":"datum.k=='f1'||datum.k=='f2'"}],"mark":{"type":"line","stroke":"black","strokeWidth":0.8},"encoding":{"detail":{"field":"k"},"order":{"field":"o"}}},
{"transform":[{"filter":"datum.k=='y'||datum.k=='h'||datum.k=='c'"},{"calculate":"datum.X+(datum.k=='y'?-9:datum.k=='h'?6:-13)","as":"X2"},{"calculate":"datum.Y+(datum.k=='y'?8:datum.k=='h'?9:0)","as":"Y2"}],"mark":{"type":"rule","stroke":"black","strokeWidth":1},"encoding":{"x2":{"field":"X2"},"y2":{"field":"Y2"}}},
{"transform":[{"filter":"datum.k=='y'||datum.k=='h'||datum.k=='c'"},{"calculate":"datum.X+(datum.k=='y'?-21:datum.k=='h'?14:-32)","as":"X"},{"calculate":"datum.Y+(datum.k=='y'?17:datum.k=='h'?17:2)","as":"Y"}],"mark":{"type":"text","font":"Liberation Sans","fontStyle":"italic","fontSize":18.5,"align":"center","baseline":"middle","color":"#111"},"encoding":{"text":{"field":"t"}}},
{"transform":[{"filter":"datum.k=='t'"},{"calculate":"344","as":"X"},{"calculate":"19","as":"Y"}],"mark":{"type":"text","font":"Liberation Serif","fontSize":24,"align":"center","baseline":"middle","color":"#111"},"encoding":{"text":{"field":"t"}}}
]}}
